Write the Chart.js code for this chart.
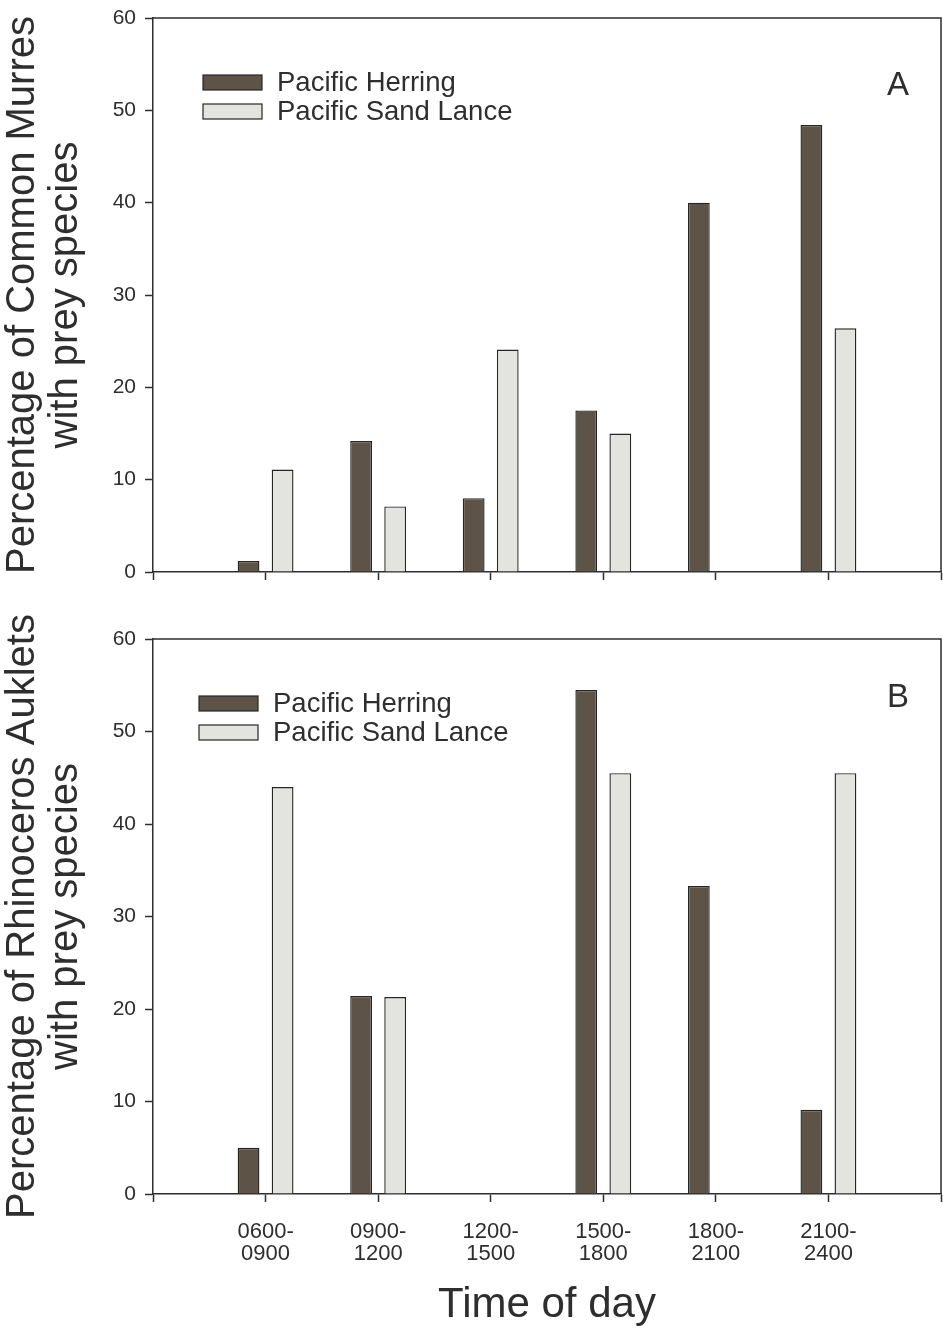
<!DOCTYPE html>
<html>
<head>
<meta charset="utf-8">
<title>Prey species by time of day</title>
<script src="https://cdn.jsdelivr.net/npm/chart.js@4.4.1/dist/chart.umd.min.js"></script>
<style>
  html, body { margin: 0; padding: 0; background: #fff; }
  #wrap { position: relative; width: 943px; height: 1331px; overflow: hidden; }
  #wrap canvas { position: absolute; left: 0; }
</style>
</head>
<body>
<div id="wrap">
  <canvas id="chart-a" width="943" height="600" style="top:0"></canvas>
  <canvas id="chart-b" width="943" height="721" style="top:610px"></canvas>
</div>
<script>
// values (percent of birds with each prey species)
const timeSlots = ['0600-0900', '0900-1200', '1200-1500', '1500-1800', '1800-2100', '2100-2400'];
const seriesNames = ['Pacific Herring', 'Pacific Sand Lance'];
const murreHerring = [1.2, 14.2, 8.0, 17.5, 40.0, 48.4];
const murreSandLance = [11.1, 7.1, 24.1, 15.0, 0, 26.4];
const aukletHerring = [5.0, 21.4, 0, 54.5, 33.3, 9.1];
const aukletSandLance = [44.0, 21.3, 0, 45.5, 0, 45.5];
const yTicks = [0, 10, 20, 30, 40, 50, 60];

(function drawFigure() {
  const FONT = '"Liberation Sans", Arial, Helvetica, sans-serif';
  const ink = '#2e2e2e';
  const herringFill = '#5d5447';
  const sandFill = '#e3e3df';

  Chart.defaults.font.family = FONT;
  Chart.defaults.color = ink;

  // top + right frame lines, in-plot legend and panel letter
  const panelDecor = {
    id: 'panelDecor',
    afterDraw(chart, args, opts) {
      const { ctx, chartArea: a } = chart;
      ctx.save();
      ctx.strokeStyle = ink;
      ctx.lineWidth = 1.5;
      ctx.beginPath();
      ctx.moveTo(a.left, a.top);
      ctx.lineTo(a.right, a.top);
      ctx.lineTo(a.right, a.bottom);
      ctx.stroke();

      ctx.font = `27.5px ${FONT}`;
      ctx.textBaseline = 'middle';
      ctx.textAlign = 'left';
      chart.data.datasets.forEach((ds, i) => {
        const y = opts.legendTop + i * 29;
        ctx.fillStyle = ds.backgroundColor;
        ctx.fillRect(opts.legendLeft, y, 59, 15);
        ctx.strokeStyle = ds.borderColor;
        ctx.lineWidth = 1.2;
        ctx.strokeRect(opts.legendLeft, y, 59, 15);
        ctx.fillStyle = ink;
        ctx.fillText(ds.label, opts.legendLeft + 74, y + 8);
      });

      ctx.font = `33px ${FONT}`;
      ctx.textAlign = 'center';
      ctx.fillText(opts.letter, opts.letterX, opts.letterY);
      ctx.restore();
    },
  };

  function toPoints(values) {
    return values.map((v, i) => ({ x: i + 1, y: v }));
  }

  function makePanel(canvasId, herring, sandLance, yTitle, cfg) {
    const canvas = document.getElementById(canvasId);
    return new Chart(canvas, {
      type: 'bar',
      data: {
        datasets: [
          {
            label: seriesNames[0],
            data: toPoints(herring),
            backgroundColor: herringFill,
            borderColor: '#262626',
            borderWidth: 1.4,
          },
          {
            label: seriesNames[1],
            data: toPoints(sandLance),
            backgroundColor: sandFill,
            borderColor: '#262626',
            borderWidth: 1.4,
          },
        ],
      },
      options: {
        responsive: false,
        animation: false,
        categoryPercentage: 0.605,
        barPercentage: 0.64,
        layout: { padding: { top: cfg.top, right: 2, bottom: 0, left: 0 } },
        plugins: {
          legend: { display: false },
          tooltip: { enabled: false },
          panelDecor: cfg.decor,
        },
        scales: {
          x: {
            type: 'linear',
            min: 0,
            max: timeSlots.length + 1,
            offset: false,
            grid: {
              display: true,
              offset: false,
              drawOnChartArea: false,
              tickLength: 8,
              tickWidth: 1.5,
              tickColor: ink,
            },
            border: { display: true, color: ink, width: 1.5 },
            ticks: {
              stepSize: 1,
              autoSkip: false,
              maxRotation: 0,
              padding: 19,
              color: ink,
              font: { size: 22, lineHeight: 1.0 },
              callback: (v) => {
                if (!cfg.showLabels || v < 1 || v > timeSlots.length) return '';
                const [from, to] = timeSlots[v - 1].split('-');
                return [from + '-', to];
              },
            },
            title: {
              display: cfg.showLabels,
              text: 'Time of day',
              color: ink,
              font: { size: 42, lineHeight: 1.2 },
              padding: { top: 0, bottom: 0 },
            },
            afterFit: (s) => {
              s.height = cfg.xHeight;
              s.paddingLeft = 0;
              s.paddingRight = 0;
            },
          },
          y: {
            min: yTicks[0],
            max: yTicks[yTicks.length - 1],
            grid: {
              display: true,
              drawOnChartArea: false,
              tickLength: 8,
              tickWidth: 1.5,
              tickColor: ink,
            },
            border: { display: true, color: ink, width: 1.5 },
            ticks: {
              stepSize: yTicks[1] - yTicks[0],
              padding: 9,
              color: ink,
              font: { size: 21 },
            },
            title: {
              display: true,
              text: yTitle,
              color: ink,
              font: { size: 40, lineHeight: 1.09 },
              padding: { top: 1, bottom: 0 },
            },
            afterFit: (s) => {
              s.width = 153;
              s.paddingTop = 0;
              s.paddingBottom = 0;
            },
          },
        },
      },
      plugins: [panelDecor],
    });
  }

  makePanel('chart-a', murreHerring, murreSandLance,
    ['Percentage of Common Murres', 'with prey species'],
    {
      top: 18,
      xHeight: 28,
      showLabels: false,
      decor: { legendLeft: 203, legendTop: 75, letter: 'A', letterX: 898, letterY: 86 },
    });

  makePanel('chart-b', aukletHerring, aukletSandLance,
    ['Percentage of Rhinoceros Auklets', 'with prey species'],
    {
      top: 29,
      xHeight: 137,
      showLabels: true,
      decor: { legendLeft: 199, legendTop: 86, letter: 'B', letterX: 898, letterY: 88 },
    });
})();
</script>
</body>
</html>
